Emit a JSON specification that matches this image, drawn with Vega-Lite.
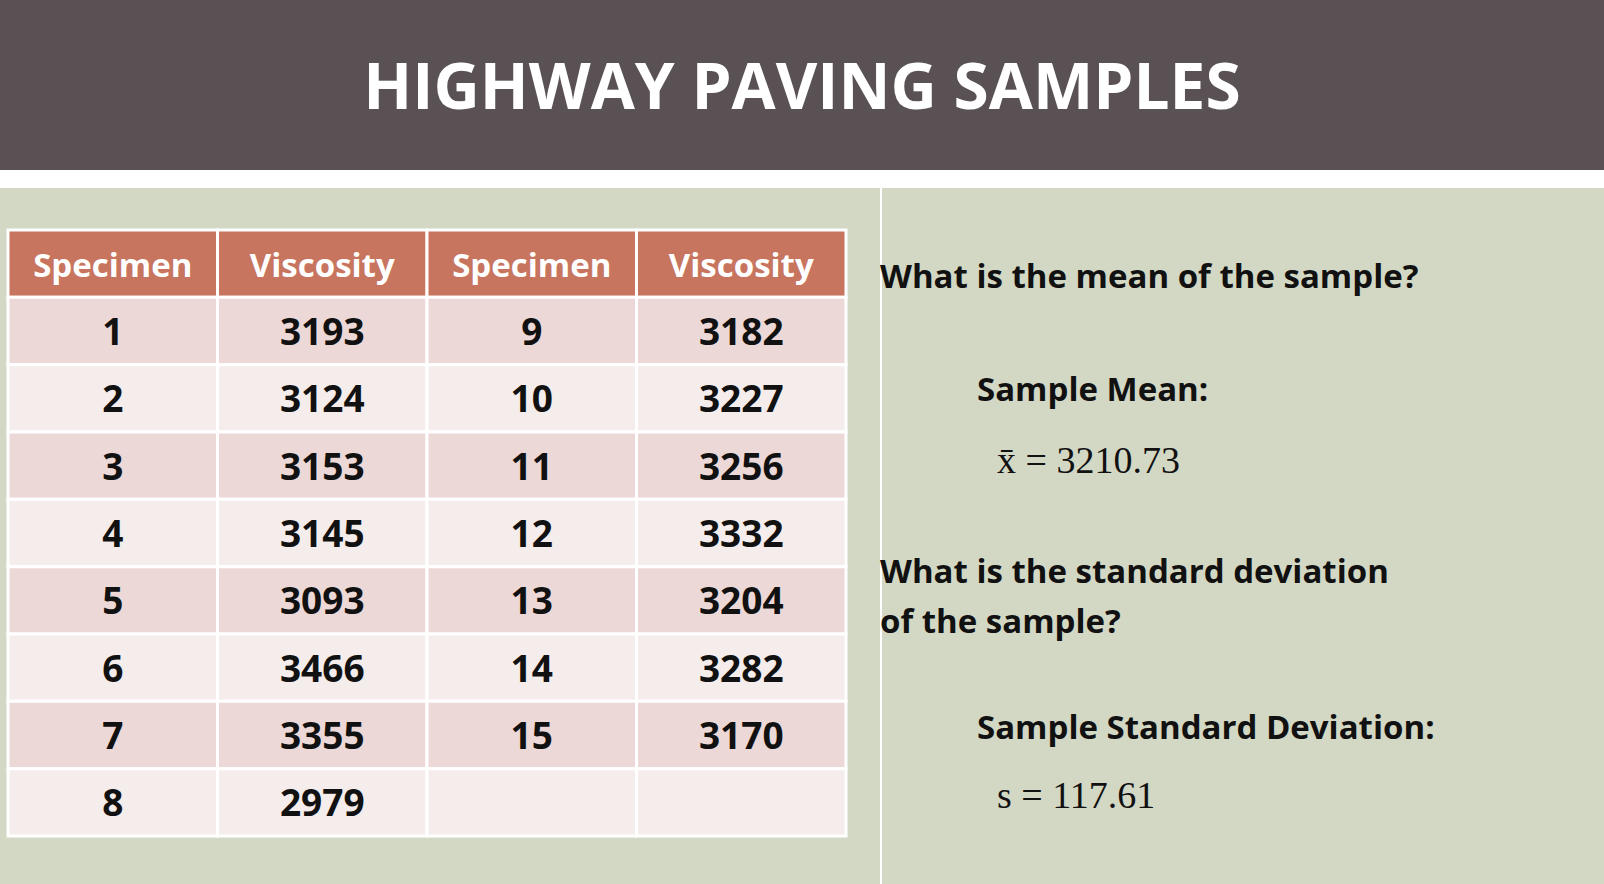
{
  "$schema": "https://vega.github.io/schema/vega-lite/v6.json",
  "background": "#ffffff",
  "padding": 0,
  "autosize": "pad",
  "spacing": 18,
  "config": {"view": {"stroke": null}, "concat": {"spacing": 0}},
  "datasets": {
    "cells": [
      {"row": 0, "col": 1, "label": "Specimen"}, {"row": 0, "col": 2, "label": "Viscosity"}, {"row": 0, "col": 3, "label": "Specimen"}, {"row": 0, "col": 4, "label": "Viscosity"},
      {"row": 1, "col": 1, "label": "1"}, {"row": 1, "col": 2, "label": "3193"}, {"row": 1, "col": 3, "label": "9"}, {"row": 1, "col": 4, "label": "3182"},
      {"row": 2, "col": 1, "label": "2"}, {"row": 2, "col": 2, "label": "3124"}, {"row": 2, "col": 3, "label": "10"}, {"row": 2, "col": 4, "label": "3227"},
      {"row": 3, "col": 1, "label": "3"}, {"row": 3, "col": 2, "label": "3153"}, {"row": 3, "col": 3, "label": "11"}, {"row": 3, "col": 4, "label": "3256"},
      {"row": 4, "col": 1, "label": "4"}, {"row": 4, "col": 2, "label": "3145"}, {"row": 4, "col": 3, "label": "12"}, {"row": 4, "col": 4, "label": "3332"},
      {"row": 5, "col": 1, "label": "5"}, {"row": 5, "col": 2, "label": "3093"}, {"row": 5, "col": 3, "label": "13"}, {"row": 5, "col": 4, "label": "3204"},
      {"row": 6, "col": 1, "label": "6"}, {"row": 6, "col": 2, "label": "3466"}, {"row": 6, "col": 3, "label": "14"}, {"row": 6, "col": 4, "label": "3282"},
      {"row": 7, "col": 1, "label": "7"}, {"row": 7, "col": 2, "label": "3355"}, {"row": 7, "col": 3, "label": "15"}, {"row": 7, "col": 4, "label": "3170"},
      {"row": 8, "col": 1, "label": "8"}, {"row": 8, "col": 2, "label": "2979"}, {"row": 8, "col": 3, "label": ""}, {"row": 8, "col": 4, "label": ""}
    ],
    "notes": [
      {"line": 1.55, "level": 0, "kind": "q", "text": "What is the mean of the sample?"},
      {"line": 3.5, "level": 0.97, "kind": "q", "text": "Sample Mean:"},
      {"line": 4.72, "level": 1.17, "kind": "m", "text": "x̄ = 3210.73"},
      {"line": 6.63, "level": 0, "kind": "q", "text": "What is the standard deviation"},
      {"line": 7.5, "level": 0, "kind": "q", "text": "of the sample?"},
      {"line": 9.32, "level": 0.97, "kind": "q", "text": "Sample Standard Deviation:"},
      {"line": 10.5, "level": 1.17, "kind": "m", "text": "s = 117.61"}
    ]
  },
  "vconcat": [
    {
      "width": 1604,
      "height": 170,
      "view": {"fill": "#5a5155"},
      "data": {"values": [{"t": "HIGHWAY PAVING SAMPLES"}]},
      "mark": {"type": "text", "font": "Open Sans", "fontWeight": "bold", "fontSize": 64, "letterSpacing": 7, "color": "#ffffff", "baseline": "middle", "dy": 5},
      "encoding": {"text": {"field": "t"}}
    },
    {
      "hconcat": [
        {
          "width": 880,
          "height": 696,
          "view": {"fill": "#d3d8c4"},
          "data": {"name": "cells"},
          "encoding": {
            "x": {"field": "col", "type": "ordinal", "axis": null, "scale": {"range": [8, 846], "paddingInner": 0, "paddingOuter": 0}},
            "y": {"field": "row", "type": "ordinal", "axis": null, "scale": {"range": [42, 648], "paddingInner": 0, "paddingOuter": 0}}
          },
          "layer": [
            {
              "mark": {"type": "rect", "stroke": "#ffffff", "strokeWidth": 3},
              "encoding": {
                "fill": {"field": "row", "type": "ordinal", "legend": null,
                  "scale": {"range": ["#c8755f", "#ecd8d6", "#f5ecec", "#ecd8d6", "#f5ecec", "#ecd8d6", "#f5ecec", "#ecd8d6", "#f5ecec"]}}
              }
            },
            {
              "mark": {"type": "text", "font": "Open Sans", "fontWeight": "bold", "baseline": "middle", "dy": 3},
              "encoding": {
                "text": {"field": "label"},
                "color": {"condition": {"test": "datum.row == 0", "value": "#ffffff"}, "value": "#111111"},
                "size": {"condition": {"test": "datum.row == 0", "value": 33}, "value": 37}
              }
            }
          ]
        },
        {
          "width": 724,
          "height": 696,
          "view": {"fill": "#d3d8c4"},
          "data": {"name": "notes"},
          "encoding": {
            "x": {"field": "level", "type": "quantitative", "axis": null, "scale": {"domain": [0, 1], "range": [-2, 98]}},
            "y": {"field": "line", "type": "quantitative", "axis": null, "scale": {"domain": [0, 12], "range": [0, 696]}},
            "text": {"field": "text"}
          },
          "layer": [
            {
              "transform": [{"filter": "datum.kind == 'q'"}],
              "mark": {"type": "text", "align": "left", "baseline": "middle", "color": "#111111", "font": "Open Sans", "fontWeight": "bold", "fontSize": 33}
            },
            {
              "transform": [{"filter": "datum.kind == 'm'"}],
              "mark": {"type": "text", "align": "left", "baseline": "middle", "color": "#111111", "font": "Liberation Serif", "fontSize": 38}
            }
          ]
        }
      ]
    }
  ]
}
